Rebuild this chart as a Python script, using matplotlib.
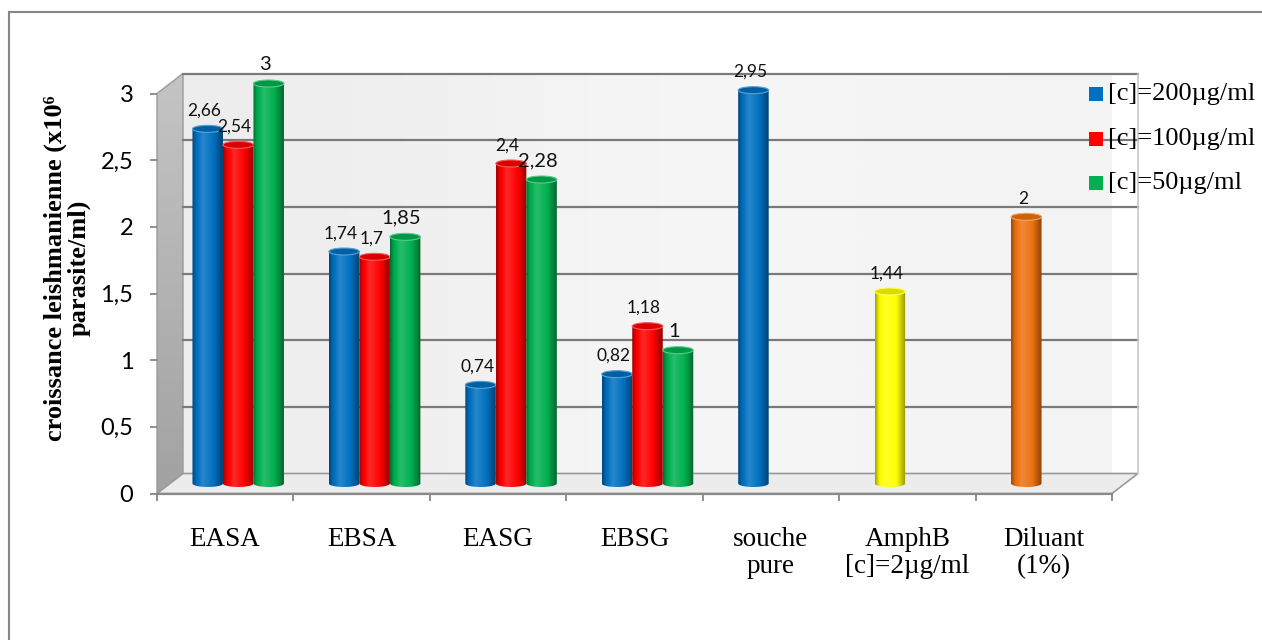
import numpy as np
import matplotlib
matplotlib.use("Agg")
import matplotlib.pyplot as plt
from matplotlib.patches import Polygon, Ellipse, Rectangle
from matplotlib.lines import Line2D
from matplotlib.colors import to_rgb

# ---- data -------------------------------------------------------------
categories = ["EASA", "EBSA", "EASG", "EBSG", "souche\npure",
              "AmphB\n[c]=2µg/ml", "Diluant\n(1%)"]
series_names = ["[c]=200µg/ml", "[c]=100µg/ml", "[c]=50µg/ml"]
vals_200 = [2.66, 1.74, 0.74, 0.82, 2.95, 1.44, 2.0]
vals_100 = [2.54, 1.70, 2.40, 1.18, None, None, None]
vals_50 = [3.00, 1.85, 2.28, 1.00, None, None, None]
y_ticks = [0, 0.5, 1, 1.5, 2, 2.5, 3]
y_label = "croissance leishmanienne (x10⁶\nparasite/ml)"

series_colors = ["#0070C0", "#FF0000", "#00B050"]
point_colors_200 = ["#0070C0"] * 5 + ["#FFFF00", "#EC7210"]

W, H = 1262, 640
fig = plt.figure(figsize=(W / 100, H / 100), dpi=100)
fig.patch.set_facecolor("white")

PX_X = 955 / 7.0       # pixels per category
PX_Y = 400 / 3.0       # pixels per unit
Y_MAX = 3.5            # headroom above the top tick for the box and labels

# front plane of the 3-D box: x from -0.5 to 6.5, y from 0 upward
ax = fig.add_axes([157 / W, (H - 493.5) / H, 955 / W, Y_MAX * PX_Y / H])
ax.set_facecolor("none")
for s in ax.spines.values():
    s.set_visible(False)

DX = 26 / PX_X         # depth offset of the back wall
DY = 20 / PX_Y
BW = 30.5 / PX_X       # cylinder width
CAP = 7 / PX_Y         # ellipse height of a cylinder cap
BASE = DY / 2          # cylinders stand at mid depth

SERIF = ["Liberation Serif", "DejaVu Serif"]
SANS = ["Lato", "DejaVu Sans"]

x_lo, x_hi = -0.5, len(categories) - 0.5
y_top = y_ticks[-1]


def vgrad(c_bottom, c_top, n=64):
    a, b = np.array(to_rgb(c_bottom)), np.array(to_rgb(c_top))
    t = np.linspace(1, 0, n)[:, None]
    return (a + (b - a) * t)[:, None, :]


# ---- walls ------------------------------------------------------------
back = Polygon([(x_lo + DX, DY), (x_hi + DX, DY), (x_hi + DX, y_top + DY),
                (x_lo + DX, y_top + DY)], closed=True, facecolor="none",
               edgecolor="none", transform=ax.transData)
im = ax.imshow(np.array([[[0.93, 0.93, 0.93], [0.97, 0.97, 0.97],
                          [0.955, 0.955, 0.955]]]),
               extent=[x_lo + DX, x_hi + DX, DY, y_top + DY], aspect="auto",
               interpolation="bicubic", zorder=0)
im.set_clip_path(back)

side = Polygon([(x_lo, 0), (x_lo + DX, DY), (x_lo + DX, y_top + DY),
                (x_lo, y_top)], closed=True, facecolor="none",
               edgecolor="none", transform=ax.transData)
im = ax.imshow(vgrad("#a2a2a2", "#c4c4c4"),
               extent=[x_lo, x_lo + DX, 0, y_top + DY], aspect="auto",
               interpolation="bicubic", zorder=0.5)
im.set_clip_path(side)
ax.add_patch(Polygon([(x_lo, 0), (x_lo + DX, DY), (x_lo + DX, y_top + DY),
                      (x_lo, y_top)], closed=True, facecolor="none",
                     edgecolor="#9a9a9a", lw=1.0, zorder=0.6, clip_on=False))

ax.add_patch(Polygon([(x_lo, 0), (x_hi, 0), (x_hi + DX, DY), (x_lo + DX, DY)],
                     closed=True, facecolor="#ececec", edgecolor="#9a9a9a",
                     lw=1.2, zorder=0.7, clip_on=False))
ax.plot([x_lo, x_hi], [0, 0], color="#8a8a8a", lw=1.6, zorder=0.8,
        clip_on=False)

# gridlines on the back wall
for t in y_ticks[1:]:
    ax.plot([x_lo + DX, x_hi + DX], [t + DY, t + DY], color="#7a7a7a",
            lw=1.6, zorder=0.9, clip_on=False)
ax.plot([x_hi + DX, x_hi + DX], [DY, y_top + DY], color="#c8c8c8", lw=1.2,
        zorder=0.9, clip_on=False)


# ---- cylinders ----------------------------------------------------------
def shade_strip(color, n=80):
    base = np.array(to_rgb(color))
    t = np.linspace(0, 1, n)
    k = np.interp(t, [0, 0.12, 0.35, 0.7, 1.0],
                  [-0.38, -0.06, 0.16, 0.0, -0.42])
    rows = [base + (1 - base) * kk if kk > 0 else base * (1 + kk) for kk in k]
    return np.array(rows)[None, :, :]


def cylinder(xc, value, color, z):
    top = value + BASE
    x0, x1 = xc - BW / 2, xc + BW / 2
    th = np.linspace(np.pi, 2 * np.pi, 40)
    ex = xc + BW / 2 * np.cos(th)
    ey = BASE + CAP / 2 * np.sin(th)
    verts = [(x0, top)] + list(zip(ex, ey)) + [(x1, top)]
    body = Polygon(verts, closed=True, facecolor="none", edgecolor="none",
                   transform=ax.transData)
    img = ax.imshow(shade_strip(color), extent=[x0, x1, BASE - CAP, top],
                    aspect="auto", interpolation="bicubic", zorder=z)
    img.set_clip_path(body)
    base = np.array(to_rgb(color))
    ax.add_patch(Ellipse((xc, top), BW, CAP, facecolor=base * 0.86,
                         edgecolor=base + (1 - base) * 0.35, lw=0.8,
                         zorder=z + 0.05, clip_on=False))
    return top


series = [vals_200, vals_100, vals_50]
label_sizes = [12.5, 12.5, 14.5]
for j, vals in enumerate(series):
    for i, v in enumerate(vals):
        if v is None:
            continue
        color = point_colors_200[i] if j == 0 else series_colors[j]
        xc = i + DX / 2 + (j - 1) * BW
        top = cylinder(xc, v, color, 3 + i + 0.1 * j)
        ax.annotate(f"{v:g}".replace(".", ","), xy=(xc, top),
                    xytext=(-2.5, 9.5), textcoords="offset points",
                    ha="center", va="baseline", fontsize=label_sizes[j],
                    family=SANS, color="#111111", zorder=20,
                    annotation_clip=False)

# ---- axes, ticks, labels ----------------------------------------------
ax.set_xlim(x_lo, x_hi)
ax.set_ylim(0, Y_MAX)

ax.set_yticks(y_ticks)
ax.set_yticklabels([f"{t:g}".replace(".", ",") for t in y_ticks],
                   fontsize=17, family=SANS)
ax.tick_params(axis="y", length=5, width=1.3, color="#868686", pad=12)

ax.set_xticks(range(len(categories)))
ax.set_xticklabels(categories, fontsize=19.5, family=SERIF, linespacing=1.1)
ax.set_xticks(np.arange(x_lo, x_hi + 0.5, 1.0), minor=True)
ax.tick_params(axis="x", which="major", length=0, pad=24)
ax.tick_params(axis="x", which="minor", length=5, width=1.3,
               color="#868686")

fig.text(67 / W, 1 - 268 / H, y_label, rotation=90, ha="center",
         va="center", multialignment="center", fontsize=19,
         fontweight="bold", family=SERIF, linespacing=1.05)

# ---- legend -------------------------------------------------------------
for k, (name, col) in enumerate(zip(series_names, series_colors)):
    yc = 94 + 44.5 * k
    fig.patches.append(Rectangle((1089 / W, 1 - (yc + 7) / H), 14 / W, 14 / H,
                                 transform=fig.transFigure, facecolor=col,
                                 edgecolor="none"))
    fig.text(1108 / W, 1 - yc / H, name, ha="left", va="center",
             fontsize=19, family=SERIF)

# ---- outer chart frame ------------------------------------------------
fig.add_artist(Line2D([8.5 / W, 1.0], [1 - 12 / H, 1 - 12 / H],
                      transform=fig.transFigure, color="#868686", lw=1.5))
fig.add_artist(Line2D([8.5 / W, 8.5 / W], [0.0, 1 - 12 / H],
                      transform=fig.transFigure, color="#868686", lw=1.5))

fig.savefig("out.png", dpi=100)
